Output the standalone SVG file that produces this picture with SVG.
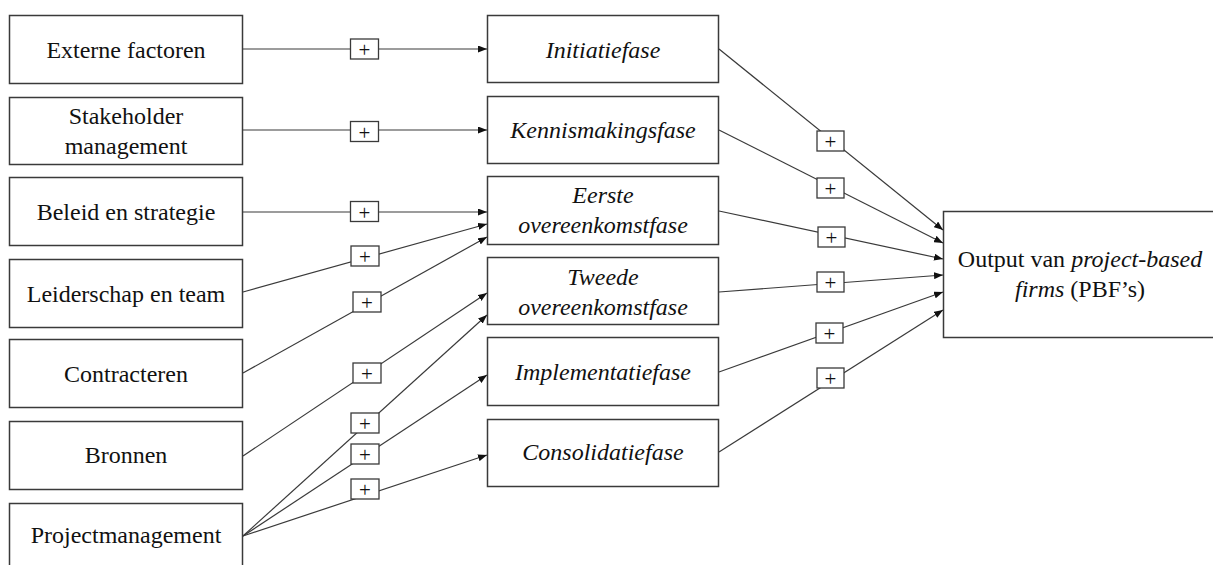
<svg xmlns="http://www.w3.org/2000/svg" width="1213" height="565" viewBox="0 0 1213 565">
<style>
.box{fill:#fff;stroke:#3a3a3a;stroke-width:1.5}
.pb{fill:#fff;stroke:#3a3a3a;stroke-width:1.3}
.t{font-size:24px;fill:#111;text-anchor:middle}
.i{font-style:italic}
.p{font-size:21px;fill:#111;text-anchor:middle}
.ln{stroke:#3a3a3a;stroke-width:1.2;fill:none;marker-end:url(#ah)}
</style>
<defs>
<marker id="ah" markerUnits="userSpaceOnUse" markerWidth="9" markerHeight="7" refX="9" refY="3.5" orient="auto">
<path d="M0,0 L9,3.5 L0,7 z" fill="#111"/>
</marker>
</defs>
<rect width="1213" height="565" fill="#fff"/>
<g font-family="'Liberation Serif', Tinos, 'Times New Roman', 'DejaVu Serif', serif">
<g id="connectors">
<line class="ln" x1="243" y1="49" x2="487" y2="49"/>
<line class="ln" x1="243" y1="130" x2="487" y2="130"/>
<line class="ln" x1="243" y1="212" x2="487" y2="212"/>
<line class="ln" x1="243" y1="292" x2="487" y2="224"/>
<line class="ln" x1="243" y1="373" x2="487" y2="237"/>
<line class="ln" x1="243" y1="456" x2="487" y2="293"/>
<line class="ln" x1="243" y1="536" x2="487" y2="315"/>
<line class="ln" x1="243" y1="536" x2="487" y2="375"/>
<line class="ln" x1="243" y1="536" x2="487" y2="455"/>
<line class="ln" x1="719" y1="49" x2="943" y2="230"/>
<line class="ln" x1="719" y1="130" x2="943" y2="243"/>
<line class="ln" x1="719" y1="211" x2="943" y2="259"/>
<line class="ln" x1="719" y1="292" x2="943" y2="275"/>
<line class="ln" x1="719" y1="372" x2="943" y2="292"/>
<line class="ln" x1="719" y1="452" x2="943" y2="310"/>
<g id="plus-signs">
<rect class="pb" x="350.5" y="39" width="28" height="20"/><text class="p" x="364.5" y="57">+</text>
<rect class="pb" x="350.5" y="121.5" width="28" height="20"/><text class="p" x="364.5" y="139.5">+</text>
<rect class="pb" x="350.5" y="201.5" width="28" height="20"/><text class="p" x="364.5" y="219.5">+</text>
<rect class="pb" x="351" y="246" width="28" height="20"/><text class="p" x="365" y="264">+</text>
<rect class="pb" x="353" y="292" width="28" height="20"/><text class="p" x="367" y="310">+</text>
<rect class="pb" x="353" y="363" width="28" height="20"/><text class="p" x="367" y="381">+</text>
<rect class="pb" x="351" y="413" width="28" height="20"/><text class="p" x="365" y="431">+</text>
<rect class="pb" x="351" y="444" width="28" height="20"/><text class="p" x="365" y="462">+</text>
<rect class="pb" x="351" y="479" width="28" height="20"/><text class="p" x="365" y="497">+</text>
<rect class="pb" x="817" y="131" width="27" height="20"/><text class="p" x="830.5" y="149">+</text>
<rect class="pb" x="817" y="178" width="27" height="20"/><text class="p" x="830.5" y="196">+</text>
<rect class="pb" x="818" y="227" width="27" height="20"/><text class="p" x="831.5" y="245">+</text>
<rect class="pb" x="817" y="272" width="27" height="20"/><text class="p" x="830.5" y="290">+</text>
<rect class="pb" x="816" y="323" width="27" height="20"/><text class="p" x="829.5" y="341">+</text>
<rect class="pb" x="817" y="368" width="27" height="20"/><text class="p" x="830.5" y="386">+</text>
</g>
</g>
<g id="externe-factoren"><rect class="box" x="9.5" y="15.5" width="233" height="68"/><text class="t" x="126" y="58">Externe factoren</text></g>
<g id="stakeholder-management"><rect class="box" x="9.5" y="97.5" width="233" height="67"/><text class="t" x="126" y="124">Stakeholder</text><text class="t" x="126" y="154">management</text></g>
<g id="beleid-en-strategie"><rect class="box" x="9.5" y="177.5" width="233" height="68"/><text class="t" x="126" y="220">Beleid en strategie</text></g>
<g id="leiderschap-en-team"><rect class="box" x="9.5" y="259.5" width="233" height="68"/><text class="t" x="126" y="302">Leiderschap en team</text></g>
<g id="contracteren"><rect class="box" x="9.5" y="339.5" width="233" height="68"/><text class="t" x="126" y="382">Contracteren</text></g>
<g id="bronnen"><rect class="box" x="9.5" y="421.5" width="233" height="68"/><text class="t" x="126" y="463">Bronnen</text></g>
<g id="projectmanagement"><rect class="box" x="9.5" y="503.5" width="233" height="75"/><text class="t" x="126" y="543">Projectmanagement</text></g>
<g id="initiatiefase"><rect class="box" x="487.5" y="15.5" width="231" height="67"/><text class="t i" x="603" y="58">Initiatiefase</text></g>
<g id="kennismakingsfase"><rect class="box" x="487.5" y="96.5" width="231" height="67"/><text class="t i" x="603" y="138">Kennismakingsfase</text></g>
<g id="eerste-overeenkomstfase"><rect class="box" x="487.5" y="176.5" width="231" height="68"/><text class="t i" x="603" y="203">Eerste</text><text class="t i" x="603" y="233">overeenkomstfase</text></g>
<g id="tweede-overeenkomstfase"><rect class="box" x="487.5" y="257.5" width="231" height="67"/><text class="t i" x="603" y="285">Tweede</text><text class="t i" x="603" y="315">overeenkomstfase</text></g>
<g id="implementatiefase"><rect class="box" x="487.5" y="337.5" width="231" height="68"/><text class="t i" x="603" y="380">Implementatiefase</text></g>
<g id="consolidatiefase"><rect class="box" x="487.5" y="419.5" width="231" height="67"/><text class="t i" x="603" y="460">Consolidatiefase</text></g>
<g id="output-pbf"><rect class="box" x="943.5" y="211.5" width="280" height="126"/><text class="t" x="1080" y="267">Output van <tspan class="i">project-based</tspan></text><text class="t" x="1080" y="297"><tspan class="i">firms</tspan> (PBF’s)</text></g>
</g>
</svg>
